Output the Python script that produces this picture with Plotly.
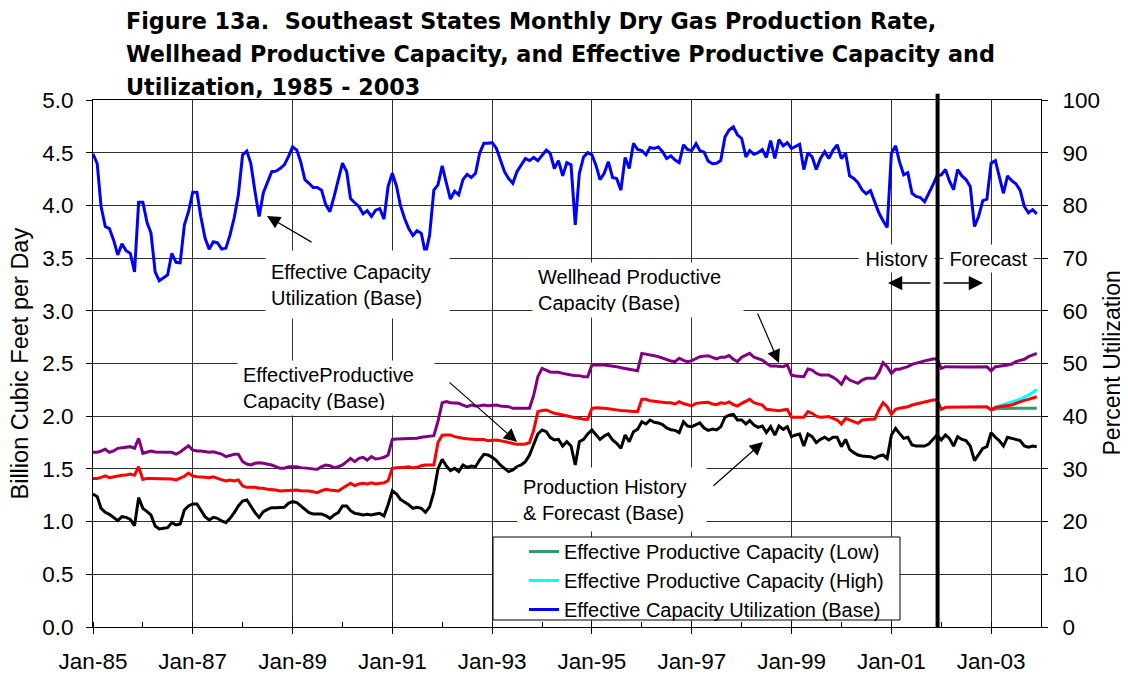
import pandas as pd
import plotly.graph_objects as go

# Datos mensuales, enero 1985 - diciembre 2003
meses = pd.date_range("1985-01-01", periods=228, freq="MS")
meses_pronostico = meses[216:]
fin_historia = "2001-12-05"

utilizacion = [
    89.8, 87.9, 79.8, 76.0, 75.6, 73.4, 70.6, 72.7, 71.4, 70.9, 67.4, 80.6,
    80.6, 76.7, 74.8, 67.4, 65.7, 66.3, 66.8, 70.9, 69.2, 69.1, 76.3, 78.8,
    82.5, 82.5, 77.9, 73.8, 71.7, 73.1, 72.9, 71.7, 71.9, 74.4, 77.7, 82.0,
    89.6, 90.3, 88.0, 82.6, 77.9, 82.4, 84.2, 86.4, 86.5, 87.0, 87.7, 89.2,
    91.1, 90.5, 88.3, 84.9, 84.2, 83.4, 83.4, 82.9, 80.1, 78.8, 81.7, 84.8,
    88.0, 86.4, 81.3, 80.5, 79.8, 78.4, 79.0, 77.9, 79.1, 79.4, 77.4, 83.6,
    86.1, 83.6, 80.0, 77.5, 75.6, 74.3, 75.2, 74.7, 70.8, 74.4, 82.9, 83.9,
    87.5, 84.2, 81.2, 82.7, 82.0, 84.9, 85.9, 85.3, 86.1, 89.9, 91.8, 91.8,
    91.9, 90.8, 88.6, 86.4, 85.1, 84.2, 86.4, 87.7, 88.9, 88.5, 89.1, 88.5,
    89.6, 90.5, 89.9, 87.0, 88.5, 85.6, 88.1, 87.7, 76.3, 86.1, 89.2, 90.0,
    89.6, 87.5, 84.9, 86.1, 88.3, 85.3, 85.1, 82.9, 89.1, 87.0, 91.8, 90.6,
    90.4, 89.6, 91.0, 90.8, 91.1, 90.2, 88.9, 89.4, 88.6, 88.1, 91.5, 90.6,
    90.4, 91.7, 90.4, 90.1, 88.4, 87.9, 88.0, 88.5, 93.0, 94.3, 94.9, 93.4,
    92.7, 89.2, 90.4, 89.7, 90.0, 90.6, 89.1, 92.3, 88.9, 92.5, 91.3, 91.9,
    90.8, 91.3, 91.6, 86.8, 90.0, 89.2, 86.8, 88.9, 90.2, 88.9, 90.5, 91.5,
    88.9, 89.9, 85.6, 85.1, 84.3, 82.9, 82.2, 82.8, 80.7, 78.6, 77.1, 75.8,
    89.9, 91.3, 88.3, 85.8, 86.2, 82.3, 81.7, 81.5, 80.7, 82.2, 83.9, 85.6,
    85.8, 86.8, 84.7, 83.0, 86.8, 85.6, 84.9, 83.6, 76.0, 77.9, 80.9, 81.2,
    88.0, 88.5, 85.3, 82.3, 85.6, 84.7, 84.1, 82.9, 79.8, 78.6, 79.2, 78.4,
]

capacidad_boca_pozo = [
    1.657, 1.657, 1.670, 1.686, 1.657, 1.670, 1.695, 1.700, 1.701, 1.711, 1.695, 1.790,
    1.648, 1.663, 1.670, 1.660, 1.657, 1.657, 1.657, 1.657, 1.641, 1.660, 1.690, 1.720,
    1.679, 1.670, 1.670, 1.663, 1.657, 1.663, 1.654, 1.641, 1.616, 1.625, 1.638, 1.638,
    1.569, 1.546, 1.537, 1.553, 1.559, 1.553, 1.546, 1.537, 1.521, 1.505, 1.505, 1.521,
    1.521, 1.521, 1.512, 1.512, 1.505, 1.499, 1.496, 1.521, 1.537, 1.530, 1.512, 1.521,
    1.537, 1.569, 1.600, 1.569, 1.600, 1.610, 1.584, 1.616, 1.594, 1.600, 1.610, 1.632,
    1.780, 1.784, 1.784, 1.787, 1.790, 1.785, 1.790, 1.800, 1.806, 1.810, 1.815, 1.950,
    2.128, 2.138, 2.128, 2.125, 2.122, 2.106, 2.090, 2.106, 2.097, 2.100, 2.106, 2.100,
    2.106, 2.106, 2.097, 2.095, 2.090, 2.075, 2.075, 2.068, 2.070, 2.075, 2.200, 2.375,
    2.454, 2.440, 2.420, 2.418, 2.416, 2.406, 2.397, 2.390, 2.387, 2.385, 2.375, 2.375,
    2.486, 2.490, 2.488, 2.486, 2.483, 2.480, 2.470, 2.460, 2.454, 2.447, 2.440, 2.432,
    2.596, 2.590, 2.580, 2.573, 2.565, 2.550, 2.533, 2.524, 2.518, 2.550, 2.530, 2.518,
    2.527, 2.550, 2.565, 2.570, 2.574, 2.558, 2.543, 2.560, 2.560, 2.575, 2.540, 2.518,
    2.559, 2.580, 2.596, 2.559, 2.545, 2.533, 2.502, 2.476, 2.476, 2.476, 2.470, 2.486,
    2.390, 2.381, 2.378, 2.375, 2.448, 2.438, 2.407, 2.390, 2.390, 2.390, 2.369, 2.343,
    2.302, 2.375, 2.343, 2.330, 2.312, 2.343, 2.359, 2.359, 2.359, 2.413, 2.508, 2.470,
    2.407, 2.445, 2.445, 2.458, 2.470, 2.492, 2.505, 2.518, 2.525, 2.533, 2.543, 2.545,
    2.454, 2.470, 2.468, 2.466, 2.464, 2.465, 2.466, 2.467, 2.468, 2.469, 2.470, 2.470,
    2.430, 2.470, 2.473, 2.476, 2.485, 2.495, 2.518, 2.530, 2.540, 2.565, 2.580, 2.596,
]

capacidad_efectiva = [
    1.410, 1.410, 1.420, 1.433, 1.417, 1.426, 1.436, 1.440, 1.442, 1.452, 1.440, 1.521,
    1.400, 1.410, 1.410, 1.410, 1.410, 1.404, 1.404, 1.404, 1.395, 1.410, 1.430, 1.460,
    1.433, 1.426, 1.426, 1.420, 1.417, 1.426, 1.410, 1.395, 1.385, 1.395, 1.385, 1.395,
    1.338, 1.325, 1.325, 1.325, 1.316, 1.316, 1.306, 1.306, 1.300, 1.290, 1.293, 1.300,
    1.300, 1.300, 1.293, 1.293, 1.290, 1.284, 1.275, 1.293, 1.306, 1.300, 1.293, 1.290,
    1.316, 1.338, 1.363, 1.341, 1.357, 1.363, 1.357, 1.369, 1.357, 1.363, 1.369, 1.389,
    1.505, 1.510, 1.510, 1.515, 1.520, 1.510, 1.515, 1.530, 1.537, 1.537, 1.537, 1.750,
    1.820, 1.822, 1.822, 1.806, 1.796, 1.790, 1.785, 1.780, 1.780, 1.780, 1.780, 1.768,
    1.770, 1.774, 1.768, 1.758, 1.749, 1.736, 1.733, 1.735, 1.736, 1.749, 1.869, 2.043,
    2.055, 2.059, 2.043, 2.027, 2.020, 2.010, 2.000, 1.990, 1.985, 1.980, 1.970, 1.970,
    2.075, 2.080, 2.080, 2.075, 2.070, 2.068, 2.060, 2.055, 2.052, 2.050, 2.045, 2.043,
    2.160, 2.160, 2.147, 2.140, 2.138, 2.132, 2.128, 2.128, 2.116, 2.138, 2.120, 2.106,
    2.097, 2.122, 2.128, 2.130, 2.132, 2.116, 2.110, 2.128, 2.120, 2.135, 2.110, 2.097,
    2.122, 2.140, 2.160, 2.128, 2.115, 2.106, 2.065, 2.059, 2.055, 2.052, 2.059, 2.065,
    1.990, 1.990, 1.990, 1.990, 2.043, 2.027, 2.000, 1.990, 1.993, 1.996, 1.980, 1.964,
    1.926, 1.980, 1.964, 1.945, 1.932, 1.964, 1.970, 1.970, 1.973, 2.059, 2.128, 2.090,
    2.018, 2.065, 2.075, 2.083, 2.090, 2.106, 2.115, 2.122, 2.130, 2.138, 2.154, 2.155,
    2.065, 2.084, 2.084, 2.084, 2.084, 2.085, 2.086, 2.086, 2.087, 2.088, 2.089, 2.090,
    2.060, 2.084, 2.090, 2.097, 2.100, 2.106, 2.122, 2.138, 2.150, 2.160, 2.172, 2.185,
]

produccion = [
    1.262, 1.237, 1.126, 1.088, 1.069, 1.040, 1.009, 1.047, 1.040, 1.021, 0.961, 1.227,
    1.126, 1.094, 1.063, 0.958, 0.930, 0.936, 0.942, 0.990, 0.968, 0.977, 1.110, 1.148,
    1.167, 1.167, 1.110, 1.047, 1.015, 1.040, 1.031, 1.006, 0.990, 1.031, 1.085, 1.148,
    1.195, 1.205, 1.148, 1.085, 1.040, 1.094, 1.116, 1.132, 1.132, 1.132, 1.135, 1.173,
    1.189, 1.180, 1.148, 1.110, 1.085, 1.072, 1.069, 1.072, 1.056, 1.031, 1.063, 1.085,
    1.148, 1.148, 1.104, 1.078, 1.072, 1.063, 1.069, 1.063, 1.072, 1.078, 1.053, 1.160,
    1.293, 1.262, 1.210, 1.185, 1.160, 1.126, 1.135, 1.126, 1.088, 1.140, 1.280, 1.500,
    1.591, 1.527, 1.483, 1.505, 1.474, 1.537, 1.515, 1.527, 1.521, 1.584, 1.638, 1.632,
    1.610, 1.578, 1.537, 1.505, 1.474, 1.490, 1.521, 1.537, 1.569, 1.632, 1.742, 1.831,
    1.869, 1.853, 1.800, 1.774, 1.780, 1.717, 1.758, 1.717, 1.537, 1.758, 1.780, 1.831,
    1.869, 1.822, 1.780, 1.812, 1.831, 1.774, 1.742, 1.695, 1.822, 1.758, 1.853, 1.875,
    1.948, 1.926, 1.964, 1.942, 1.936, 1.920, 1.888, 1.872, 1.866, 1.844, 1.948, 1.907,
    1.901, 1.920, 1.936, 1.888, 1.866, 1.878, 1.870, 1.900, 1.990, 2.010, 2.018, 1.964,
    1.964, 1.926, 1.958, 1.916, 1.894, 1.907, 1.844, 1.900, 1.820, 1.907, 1.875, 1.900,
    1.806, 1.822, 1.831, 1.717, 1.831, 1.806, 1.749, 1.780, 1.800, 1.774, 1.800, 1.800,
    1.711, 1.780, 1.686, 1.654, 1.632, 1.622, 1.616, 1.616, 1.600, 1.622, 1.632, 1.600,
    1.822, 1.885, 1.837, 1.790, 1.800, 1.727, 1.717, 1.717, 1.717, 1.736, 1.780, 1.822,
    1.774, 1.822, 1.790, 1.717, 1.806, 1.780, 1.768, 1.717, 1.578, 1.632, 1.695, 1.711,
    1.844, 1.800, 1.768, 1.717, 1.800, 1.790, 1.780, 1.768, 1.717, 1.705, 1.717, 1.711,
]

# Casos alto y bajo, enero - diciembre 2003
capacidad_baja = [2.060, 2.068, 2.072, 2.074, 2.075, 2.075, 2.075, 2.075, 2.075, 2.075, 2.075, 2.075]
capacidad_alta = [2.060, 2.087, 2.097, 2.108, 2.120, 2.133, 2.147, 2.163, 2.180, 2.200, 2.225, 2.255]

# la pagina deja 8 px de margen, la figura se reduce para compensar
DESPL = 8
ANCHO, ALTO = 1128, 675
AREA_X0, AREA_X1, AREA_Y0, AREA_Y1 = 93, 1041, 100, 627
FUENTE = "Liberation Sans, Arial, sans-serif"
FUENTE_TITULO = "DejaVu Sans, Verdana, sans-serif"


def px_x(x):
    return (x - AREA_X0) / (AREA_X1 - AREA_X0)


def px_y(y):
    return (AREA_Y1 - y) / (AREA_Y1 - AREA_Y0)


fig = go.Figure()

fig.add_trace(go.Scatter(x=meses_pronostico, y=capacidad_baja, mode="lines",
                         line=dict(color="#339966", width=3),
                         name="Effective Productive Capacity (Low)"))
fig.add_trace(go.Scatter(x=meses_pronostico, y=capacidad_alta, mode="lines",
                         line=dict(color="#00FFFF", width=3),
                         name="Effective Productive Capacity (High)"))
fig.add_trace(go.Scatter(x=meses, y=capacidad_boca_pozo, mode="lines",
                         line=dict(color="#800080", width=3), showlegend=False))
fig.add_trace(go.Scatter(x=meses, y=capacidad_efectiva, mode="lines",
                         line=dict(color="#FF0000", width=3), showlegend=False))
fig.add_trace(go.Scatter(x=meses, y=produccion, mode="lines",
                         line=dict(color="#000000", width=3), showlegend=False))
fig.add_trace(go.Scatter(x=meses, y=utilizacion, mode="lines", yaxis="y2",
                         line=dict(color="#0000FF", width=3),
                         name="Effective Capacity Utilization (Base)"))

# linea vertical historia / pronostico
fig.add_shape(type="line", x0=fin_historia, x1=fin_historia, xref="x",
              y0=0, y1=1.012, yref="paper", line=dict(color="black", width=4))

# recuadro de la leyenda
fig.add_shape(type="rect", xref="paper", yref="paper", layer="above",
              x0=px_x(493), x1=px_x(900), y0=px_y(620), y1=px_y(537),
              fillcolor="white", line=dict(color="black", width=1))

anotaciones = []

# titulo en tres lineas
titulo = ["Figure 13a.  Southeast States Monthly Dry Gas Production Rate,",
          "Wellhead Productive Capacity, and Effective Productive Capacity and",
          "Utilization, 1985 - 2003"]
for i, linea in enumerate(titulo):
    anotaciones.append(dict(text="<b>" + linea + "</b>", x=px_x(124), y=px_y(21 + 33 * i),
                            xref="paper", yref="paper", xanchor="left", yanchor="middle",
                            showarrow=False,
                            font=dict(size=22.3, color="black", family=FUENTE_TITULO)))

# titulos de ejes
anotaciones.append(dict(text="Billion Cubic Feet per Day", textangle=-90, x=px_x(19), y=0.5,
                        xref="paper", yref="paper", xanchor="center", yanchor="middle",
                        showarrow=False, font=dict(size=23.5, color="black", family=FUENTE)))
anotaciones.append(dict(text="Percent Utilization", textangle=-90, x=px_x(1111), y=0.5,
                        xref="paper", yref="paper", xanchor="center", yanchor="middle",
                        showarrow=False, font=dict(size=23, color="black", family=FUENTE)))


def caja(texto, x0, y0, x1, y1, alinear="left"):
    return dict(text=texto, x=px_x(x0), y=px_y(y0), xref="paper", yref="paper",
                xanchor="left", yanchor="top", width=x1 - x0 - 10, height=y1 - y0 - 10,
                borderpad=5, align=alinear, valign="middle", bgcolor="white",
                showarrow=False, font=dict(size=20, color="black", family=FUENTE))


def flecha(cabeza, cola, ancho=1.2, tam=2.2):
    return dict(text="", x=px_x(cabeza[0]), y=px_y(cabeza[1]), xref="paper", yref="paper",
                ax=cola[0] - cabeza[0], ay=cola[1] - cabeza[1], showarrow=True,
                arrowhead=2, arrowsize=tam, arrowwidth=ancho, arrowcolor="black", standoff=0)


anotaciones += [
    caja("Effective Capacity<br>Utilization (Base)", 265, 250, 448, 317),
    caja("Wellhead Productive<br>Capacity (Base)", 532, 262, 742, 316),
    caja("EffectiveProductive<br>Capacity (Base)", 237, 360, 433, 414),
    caja("Production History<br>& Forecast (Base)", 517, 467, 705, 530),
    caja("History", 858, 244, 933, 271, "center"),
    caja("Forecast", 943, 244, 1032, 271, "center"),
    flecha((267, 216), (313, 243)),
    flecha((779, 363), (757, 312)),
    flecha((517, 442), (448, 381)),
    flecha((763, 442), (712, 487)),
    flecha((888, 283), (932, 283), 1.5, 1.9),
    flecha((983, 283), (942, 283), 1.5, 1.9),
]

fig.update_layout(
    width=ANCHO - DESPL, height=ALTO - DESPL,
    margin=dict(l=AREA_X0 - DESPL, r=ANCHO - AREA_X1, t=AREA_Y0 - DESPL,
                b=ALTO - AREA_Y1, autoexpand=False),
    paper_bgcolor="white", plot_bgcolor="white",
    font=dict(family=FUENTE, color="black"),
    showlegend=True,
    legend=dict(x=px_x(524), y=px_y(532), xanchor="left", yanchor="top",
                bgcolor="rgba(0,0,0,0)", borderwidth=0,
                font=dict(size=20, color="black"), itemwidth=30, tracegroupgap=0),
    annotations=anotaciones,
    xaxis=dict(type="date", range=["1985-01-01", "2004-01-01"],
               tick0="1985-01-01", dtick="M24", tickformat="%b-%y",
               ticks="outside", ticklen=6, tickcolor="black",
               showgrid=True, gridcolor="#303030", gridwidth=1,
               showline=True, linecolor="black", linewidth=1, mirror=True,
               tickfont=dict(size=22.5), ticklabelstandoff=8,
               minor=dict(dtick="M12", tick0="1985-01-01", ticks="inside",
                          ticklen=5, tickcolor="black", showgrid=False),
               zeroline=False),
    yaxis=dict(range=[0, 5], dtick=0.5, tickformat=".1f",
               ticks="outside", ticklen=6, tickcolor="black",
               showgrid=True, gridcolor="#303030", gridwidth=1,
               showline=True, linecolor="black", linewidth=1,
               tickfont=dict(size=22.5), ticklabelstandoff=8, zeroline=False),
    yaxis2=dict(range=[0, 100], dtick=10, overlaying="y", side="right",
                ticks="outside", ticklen=6, tickcolor="black",
                showgrid=False, showline=True, linecolor="black", linewidth=1,
                tickfont=dict(size=22.5), ticklabelstandoff=10, zeroline=False),
)

fig.write_html("out.html")
